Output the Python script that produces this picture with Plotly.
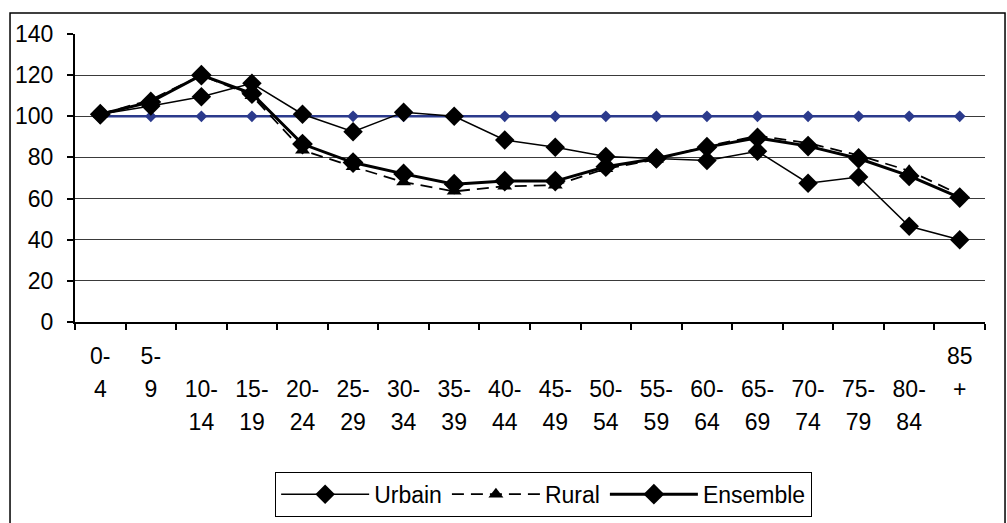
import plotly.graph_objects as go

categories = ["0-4", "5-9", "10-14", "15-19", "20-24", "25-29", "30-34", "35-39",
              "40-44", "45-49", "50-54", "55-59", "60-64", "65-69", "70-74",
              "75-79", "80-84", "85+"]
# tick label rows as drawn (wrapped text)
row1 = ["0-", "5-", "", "", "", "", "", "", "", "", "", "", "", "", "", "", "", "85"]
row2 = ["4", "9", "10-", "15-", "20-", "25-", "30-", "35-", "40-", "45-", "50-",
        "55-", "60-", "65-", "70-", "75-", "80-", "+"]
row3 = ["", "", "14", "19", "24", "29", "34", "39", "44", "49", "54", "59", "64",
        "69", "74", "79", "84", ""]

reference = [100, 100, 100, 100, 100, 100, 100, 100, 100, 100, 100, 100, 100, 100,
             100, 100, 100, 100]
urbain = [101, 105, 109.5, 116, 101, 92.5, 102, 100, 88.5, 85, 80.5, 79.5, 78.5, 83,
          67.5, 70.5, 46.5, 40]
rural = [101, 108, 120, 110, 83.5, 75.5, 68, 63.5, 66, 66.5, 74.5, 79, 85.5, 90.5,
         87, 81, 73.5, 62]
ensemble = [101, 107, 120, 111, 86.5, 77.5, 72, 67, 68.5, 68.5, 75.5, 79.5, 85, 89.5,
            85.5, 79.5, 71, 60.5]
y_ticks = [0, 20, 40, 60, 80, 100, 120, 140]

FONT = "Liberation Sans, Arial, sans-serif"
FS = 23
idx = list(range(len(categories)))

fig = go.Figure()
fig.add_trace(go.Scatter(x=categories, y=reference, name="Référence", mode="lines+markers",
                         line=dict(color="#2B3A8C", width=2.5),
                         marker=dict(symbol="diamond", size=9, color="#2B3A8C"),
                         showlegend=False))
fig.add_trace(go.Scatter(x=categories, y=urbain, name="Urbain", mode="lines+markers",
                         line=dict(color="black", width=1.5),
                         marker=dict(symbol="diamond", size=15, color="black")))
fig.add_trace(go.Scatter(x=categories, y=rural, name="Rural", mode="lines+markers",
                         line=dict(color="black", width=1.8, dash="12px,7px"),
                         marker=dict(symbol="triangle-up", size=13, color="black")))
fig.add_trace(go.Scatter(x=categories, y=ensemble, name="Ensemble", mode="lines+markers",
                         line=dict(color="black", width=3),
                         marker=dict(symbol="diamond", size=16, color="black")))

# empty carriers for the three rows of wrapped tick labels
for ax in ("x2", "x3", "x4"):
    fig.add_trace(go.Scatter(x=idx, y=[None] * len(idx), xaxis=ax, yaxis="y",
                             mode="none", showlegend=False, hoverinfo="skip"))

row_axis = dict(overlaying="x", anchor="y", side="bottom", type="linear",
                range=[-0.5, len(categories) - 0.5], tickmode="array", tickvals=idx,
                ticks="", showline=False, showgrid=False, zeroline=False,
                tickfont=dict(size=FS, color="black", family=FONT))

fig.update_layout(
    width=1007, height=523,
    margin=dict(l=75, r=22, t=34, b=201, autoexpand=False),
    paper_bgcolor="white", plot_bgcolor="white",
    font=dict(family=FONT, size=FS, color="black"),
    xaxis=dict(type="category", categoryorder="array", categoryarray=categories,
               range=[-0.5, len(categories) - 0.5], tickson="boundaries",
               ticks="outside", ticklen=6, tickwidth=1.5, tickcolor="black",
               showticklabels=False, showline=True, linecolor="black", linewidth=2,
               showgrid=False, zeroline=False),
    xaxis2=dict(row_axis, ticktext=row1, ticklabelstandoff=18),
    xaxis3=dict(row_axis, ticktext=row2, ticklabelstandoff=51),
    xaxis4=dict(row_axis, ticktext=row3, ticklabelstandoff=84),
    yaxis=dict(range=[0, 140], tickmode="array", tickvals=y_ticks, ticks="outside",
               ticklen=6, tickwidth=1.5, tickcolor="black", showline=True,
               linecolor="black", linewidth=2, showgrid=True, gridcolor="#3a3a3a",
               gridwidth=1, zeroline=False, ticklabelstandoff=9,
               tickfont=dict(size=FS, color="black", family=FONT)),
    legend=dict(orientation="h", x=0.515, xanchor="center", y=-0.52, yanchor="top",
                bordercolor="black", borderwidth=1, bgcolor="white",
                itemwidth=88,
                font=dict(size=FS, color="black", family=FONT)),
    shapes=[dict(type="rect", xref="paper", yref="paper", x0=-0.0714, x1=1.022,
                 y0=-0.75, y1=1.073, line=dict(color="black", width=1.5),
                 fillcolor="rgba(0,0,0,0)", layer="below")],
)

fig.write_html("out.html", config={"displayModeBar": False},
               post_script="document.body.style.margin='0px';")
